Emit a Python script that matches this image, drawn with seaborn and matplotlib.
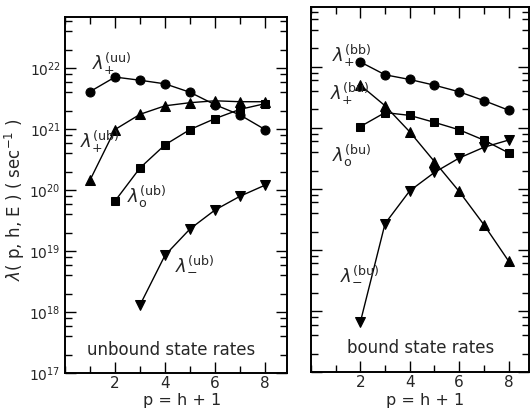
import numpy as np
import pandas as pd
import matplotlib
matplotlib.use("Agg")
import matplotlib.pyplot as plt
import seaborn as sns
from matplotlib.ticker import LogLocator, NullFormatter, MultipleLocator

# ---- data ----
p_all = [1, 2, 3, 4, 5, 6, 7, 8]
p_from2 = [2, 3, 4, 5, 6, 7, 8]
p_from3 = [3, 4, 5, 6, 7, 8]

# unbound state rates
lam_plus_uu = [4.1e21, 7.1e21, 6.3e21, 5.5e21, 4.0e21, 2.5e21, 1.7e21, 9.8e20]
lam_plus_ub = [1.45e20, 9.8e20, 1.74e21, 2.4e21, 2.7e21, 2.9e21, 2.8e21, 2.8e21]
lam_zero_ub = [6.6e19, 2.3e20, 5.5e20, 9.8e20, 1.48e21, 2.1e21, 2.6e21]
lam_minus_ub = [1.3e18, 8.5e18, 2.3e19, 4.7e19, 7.9e19, 1.2e20]

# bound state rates
lam_plus_bb = [1.2e22, 7.4e21, 6.2e21, 5.0e21, 3.9e21, 2.8e21, 1.95e21]
lam_plus_bu = [5.0e21, 2.3e21, 8.6e20, 2.8e20, 9.1e19, 2.6e19, 6.6e18]
lam_zero_bu = [1.05e21, 1.78e21, 1.6e21, 1.23e21, 9.3e20, 6.3e20, 3.9e20]
lam_minus_bu = [6.6e17, 2.7e19, 9.3e19, 1.86e20, 3.2e20, 4.8e20, 6.3e20]

xtick_vals = [2, 4, 6, 8]
ytick_vals = [1e17, 1e18, 1e19, 1e20, 1e21, 1e22]

sns.set_style("ticks")
plt.rcParams["font.family"] = ["DejaVu Sans"]
plt.rcParams["mathtext.fontset"] = "dejavusans"

fig = plt.figure(figsize=(5.3, 4.09), dpi=100)
axL = fig.add_axes([65 / 530, 36 / 409, 222 / 530, 356 / 409])
axR = fig.add_axes([311 / 530, 37 / 409, 218 / 530, 365 / 409])


def draw(ax, x, y, marker, ms):
    sns.lineplot(x=x, y=y, ax=ax, color="black", linewidth=1.0,
                 marker=marker, markersize=ms, markeredgecolor="black",
                 markerfacecolor="black", legend=False)


draw(axL, p_all, lam_plus_uu, "o", 6.5)
draw(axL, p_all, lam_plus_ub, "^", 6.5)
draw(axL, p_from2, lam_zero_ub, "s", 5.8)
draw(axL, p_from3, lam_minus_ub, "v", 6.5)

draw(axR, p_from2, lam_plus_bb, "o", 6.5)
draw(axR, p_from2, lam_plus_bu, "^", 6.5)
draw(axR, p_from2, lam_zero_bu, "s", 5.8)
draw(axR, p_from2, lam_minus_bu, "v", 6.5)

for ax, top, right in [(axL, 10 ** 22.836, 8.88), (axR, 10 ** 22.98, 8.83)]:
    ax.set_yscale("log")
    ax.set_ylim(1e17, top)
    ax.set_xlim(0, right)
    ax.set_xticks(xtick_vals)
    ax.set_xticklabels([str(v) for v in xtick_vals], fontsize=11)
    ax.xaxis.set_minor_locator(MultipleLocator(1))
    ax.set_yticks(ytick_vals)
    ax.yaxis.set_minor_locator(LogLocator(base=10, subs=(2, 4, 6, 8)))
    ax.yaxis.set_minor_formatter(NullFormatter())
    ax.tick_params(which="both", direction="in", top=True, right=True,
                   color="black", width=1.0)
    ax.tick_params(which="major", length=8, pad=2)
    ax.tick_params(which="minor", length=5)
    ax.tick_params(axis="y", which="major", pad=3)
    for s in ax.spines.values():
        s.set_linewidth(1.4)
        s.set_color("black")
    ax.set_xlabel("")
    ax.set_ylabel("")

axL.tick_params(axis="y", labelsize=10)
axR.set_yticklabels([])

# axis titles
fig.text(182 / 530, 1 - 400 / 409, "p = h + 1", fontsize=11.5, ha="center", va="center")
fig.text(425 / 530, 1 - 400 / 409, "p = h + 1", fontsize=11.5, ha="center", va="center")
fig.text(15 / 530, 1 - 200 / 409, r"$\lambda$( p, h, E ) ( sec$^{-1}$ )",
         fontsize=12, rotation=90, ha="center", va="center")

fs_lab = 13
def lab(ax, x, logy, txt):
    ax.text(x, 10 ** logy, txt, fontsize=fs_lab, ha="left", va="center")

lab(axL, 1.08, 22.07, r"$\lambda_{+}^{\mathrm{(uu)}}$")
lab(axL, 0.6, 20.79, r"$\lambda_{+}^{\mathrm{(ub)}}$")
lab(axL, 2.48, 19.89, r"$\lambda_{\mathrm{o}}^{\mathrm{(ub)}}$")
lab(axL, 4.4, 18.79, r"$\lambda_{-}^{\mathrm{(ub)}}$")

lab(axR, 0.85, 22.18, r"$\lambda_{+}^{\mathrm{(bb)}}$")
lab(axR, 0.77, 21.56, r"$\lambda_{+}^{\mathrm{(bu)}}$")
lab(axR, 0.85, 20.54, r"$\lambda_{\mathrm{o}}^{\mathrm{(bu)}}$")
lab(axR, 1.17, 18.62, r"$\lambda_{-}^{\mathrm{(bu)}}$")

axL.text(0.48, 0.065, "unbound state rates", transform=axL.transAxes,
         fontsize=12, ha="center", va="center")
axR.text(0.505, 0.065, "bound state rates", transform=axR.transAxes,
         fontsize=12, ha="center", va="center")

fig.savefig("out.png", dpi=100)
